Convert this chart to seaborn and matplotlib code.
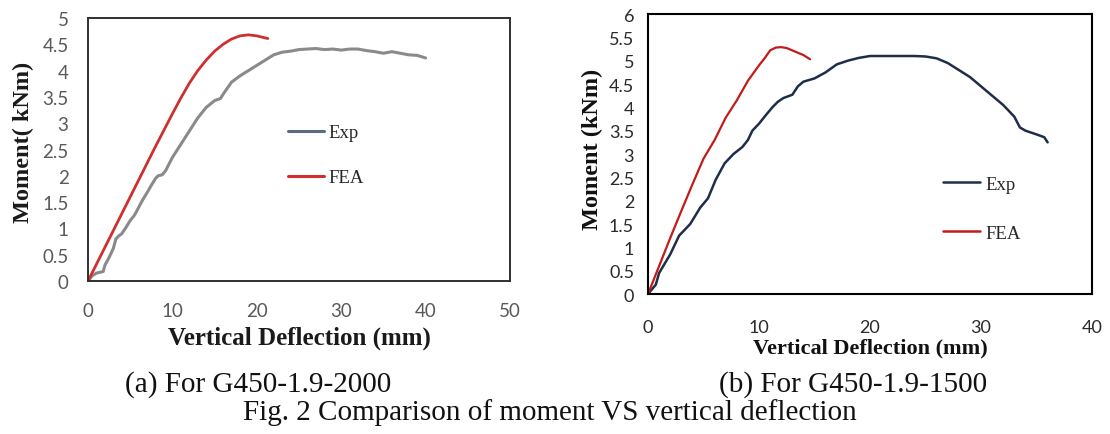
import numpy as np
import pandas as pd
import matplotlib
matplotlib.use("Agg")
import matplotlib.pyplot as plt
import seaborn as sns

# ---------------- data ----------------
a_exp_x = [0, 0.5, 1.0, 1.8, 2.0, 2.5, 3.0, 3.3, 3.6, 4.0, 4.5, 5.0, 5.5, 6.0, 6.5, 7.0,
           7.5, 8.0, 8.3, 8.8, 9.2, 10, 11, 12, 13, 14, 15, 15.7, 16, 17, 18, 19, 20,
           21, 22, 23, 24, 25, 26, 27, 28, 29, 30, 31, 32, 33, 34, 35, 36, 37, 38, 39, 40]
a_exp_y = [0, 0.10, 0.15, 0.18, 0.30, 0.45, 0.62, 0.80, 0.85, 0.90, 1.02, 1.15, 1.25, 1.40,
           1.55, 1.68, 1.82, 1.95, 2.00, 2.02, 2.10, 2.35, 2.60, 2.85, 3.10, 3.30, 3.43, 3.47,
           3.55, 3.78, 3.90, 4.00, 4.10, 4.20, 4.30, 4.35, 4.37, 4.40, 4.41, 4.42, 4.40, 4.41,
           4.39, 4.41, 4.41, 4.38, 4.36, 4.33, 4.36, 4.33, 4.30, 4.29, 4.24]
a_fea_x = [0, 2, 4, 6, 8, 10, 11, 12, 13, 14, 15, 16, 17, 18, 19, 20, 21.3]
a_fea_y = [0, 0.64, 1.28, 1.92, 2.56, 3.18, 3.48, 3.76, 4.00, 4.20, 4.37, 4.50, 4.60,
           4.66, 4.68, 4.66, 4.61]

b_exp_x = [0, 0.7, 1.0, 2.0, 2.8, 3.8, 4.7, 5.4, 6.1, 6.9, 7.7, 8.5, 9.0, 9.4, 10.0, 10.5,
           11.2, 11.7, 12.2, 13.0, 13.5, 14.0, 15.0, 16.0, 17.0, 18.0, 19.0, 20.0, 22.0,
           24.0, 25.0, 26.0, 27.0, 28.0, 29.0, 30.0, 31.0, 32.0, 33.0, 33.5, 34.0, 35.0,
           35.7, 36.0]
b_exp_y = [0, 0.20, 0.45, 0.85, 1.25, 1.50, 1.85, 2.05, 2.45, 2.80, 3.00, 3.15, 3.30, 3.50,
           3.65, 3.80, 4.00, 4.12, 4.20, 4.27, 4.45, 4.55, 4.62, 4.75, 4.92, 5.00, 5.06, 5.10,
           5.10, 5.10, 5.09, 5.05, 4.95, 4.80, 4.65, 4.45, 4.25, 4.05, 3.80, 3.57, 3.50, 3.42,
           3.36, 3.25]
b_fea_x = [0, 1, 2, 3, 4, 5, 6, 7, 8, 9, 10, 10.5, 11, 11.5, 12, 12.5, 13, 14, 14.6]
b_fea_y = [0, 0.60, 1.20, 1.78, 2.35, 2.90, 3.30, 3.78, 4.15, 4.57, 4.90, 5.05, 5.22, 5.28,
           5.29, 5.27, 5.22, 5.12, 5.03]

a_xticks = [0, 10, 20, 30, 40, 50]
a_yticks = [0, 0.5, 1, 1.5, 2, 2.5, 3, 3.5, 4, 4.5, 5]
a_ytick_labels = ["0", "0.5", "1", "1.5", "2", "2.5", "3", "3.5", "4", "4.5", "5"]
b_xticks = [0, 10, 20, 30, 40]
b_yticks = [0, 0.5, 1, 1.5, 2, 2.5, 3, 3.5, 4, 4.5, 5, 5.5, 6]
b_ytick_labels = ["0", "0.5", "1", "1.5", "2", "2.5", "3", "3.5", "4", "4.5", "5", "5.5", "6"]

series_names = ["Exp", "FEA"]
caption_a = "(a) For G450-1.9-2000"
caption_b = "(b) For G450-1.9-1500"
caption_fig = "Fig. 2 Comparison of moment VS vertical deflection"

# ---------------- style ----------------
sns.set_style("white")
plt.rcParams["font.family"] = ["Lato", "DejaVu Sans"]
SERIF = ["Liberation Serif", "DejaVu Serif"]

fig = plt.figure(figsize=(11.10, 4.35), dpi=100)
ax1 = fig.add_axes([0.0793, 0.3517, 0.3802, 0.6046])
ax2 = fig.add_axes([0.5838, 0.3218, 0.4000, 0.6437])

df_a_exp = pd.DataFrame({"x": a_exp_x, "y": a_exp_y})
df_a_fea = pd.DataFrame({"x": a_fea_x, "y": a_fea_y})
df_b_exp = pd.DataFrame({"x": b_exp_x, "y": b_exp_y})
df_b_fea = pd.DataFrame({"x": b_fea_x, "y": b_fea_y})

sns.lineplot(data=df_a_exp, x="x", y="y", ax=ax1, color="#8a8a8a", lw=2.2,
             sort=False, estimator=None, label=series_names[0])
sns.lineplot(data=df_a_fea, x="x", y="y", ax=ax1, color="#cf2f2f", lw=2.0,
             sort=False, estimator=None, label=series_names[1])
sns.lineplot(data=df_b_exp, x="x", y="y", ax=ax2, color="#1e2e48", lw=1.8,
             sort=False, estimator=None, label=series_names[0])
sns.lineplot(data=df_b_fea, x="x", y="y", ax=ax2, color="#c41a1a", lw=1.6,
             sort=False, estimator=None, label=series_names[1])

# axes a
ax1.set_xlim(0, 50)
ax1.set_ylim(0, 5)
ax1.set_xticks(a_xticks)
ax1.set_yticks(a_yticks)
ax1.set_yticklabels(a_ytick_labels)
ax1.tick_params(axis="both", direction="out", length=5, width=1.3, color="#404040",
                labelsize=13.5, labelcolor="#595959")
ax1.tick_params(axis="y", pad=9)
ax1.tick_params(axis="x", pad=10)
for s in ax1.spines.values():
    s.set_visible(True)
    s.set_color("#303030")
    s.set_linewidth(1.4)
ax1.set_xlabel("Vertical Deflection (mm)", family=SERIF, fontweight="bold",
               fontsize=18, color="#1a1a1a", labelpad=5)
ax1.set_ylabel("Moment( kNm)", family=SERIF, fontweight="bold",
               fontsize=17.5, color="#1a1a1a", labelpad=6)
ax1.yaxis.label.set_y(0.532)

# axes b
ax2.set_xlim(0, 40)
ax2.set_ylim(0, 6)
ax2.set_xticks(b_xticks)
ax2.set_yticks(b_yticks)
ax2.set_yticklabels(b_ytick_labels)
ax2.tick_params(axis="both", direction="out", length=6, width=1.3, color="#111111",
                labelsize=13, labelcolor="#2a2a2a")
ax2.tick_params(axis="y", pad=4)
ax2.tick_params(axis="x", pad=12)
for s in ax2.spines.values():
    s.set_visible(True)
    s.set_color("#000000")
    s.set_linewidth(1.5)
ax2.set_xlabel("Vertical Deflection (mm)", family=SERIF, fontweight="bold",
               fontsize=16, color="#111111", labelpad=2)
ax2.set_ylabel("Moment (kNm)", family=SERIF, fontweight="bold",
               fontsize=17.5, color="#111111", labelpad=4)
ax2.yaxis.label.set_y(0.521)

# legends
leg1 = ax1.legend(loc="center left", bbox_to_anchor=(0.474, 0.478), frameon=False,
                  borderpad=0, borderaxespad=0, handlelength=1.9, handletextpad=0.25,
                  labelspacing=1.5, prop={"family": SERIF, "size": 13.5})
leg1.legend_handles[0].set_color("#5b6b7f")
for h in leg1.legend_handles:
    h.set_linewidth(2.2)
leg2 = ax2.legend(loc="center left", bbox_to_anchor=(0.664, 0.305), frameon=False,
                  borderpad=0, borderaxespad=0, handlelength=2.0, handletextpad=0.25,
                  labelspacing=1.7, prop={"family": SERIF, "size": 13.5})
for h in leg2.legend_handles:
    h.set_linewidth(1.8)

# captions
fig.text(258 / 1110, 1 - 385 / 435, caption_a, family=SERIF, fontsize=21,
         ha="center", va="center", color="#111111")
fig.text(853 / 1110, 1 - 385 / 435, caption_b, family=SERIF, fontsize=21,
         ha="center", va="center", color="#111111")
fig.text(550 / 1110, 1 - 413 / 435, caption_fig, family=SERIF, fontsize=21,
         ha="center", va="center", color="#111111")

fig.savefig("out.png", dpi=100, facecolor="white")
